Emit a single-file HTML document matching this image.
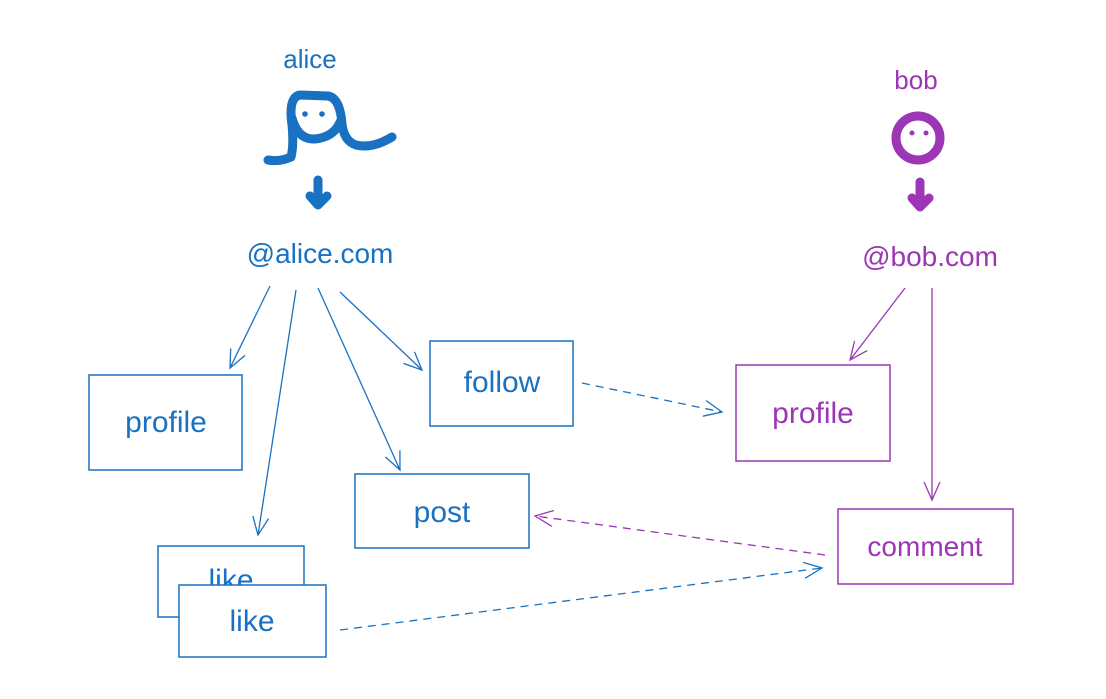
<!DOCTYPE html>
<html><head><style>
html,body{margin:0;padding:0;background:#fff;width:1106px;height:699px;overflow:hidden}
text{font-family:"Liberation Sans",sans-serif}
</style></head><body>
<svg width="1106" height="699" viewBox="0 0 1106 699" xmlns="http://www.w3.org/2000/svg">
<defs>
<marker id="ab" viewBox="0 0 20 20" refX="18" refY="10" markerWidth="20" markerHeight="20" orient="auto" markerUnits="userSpaceOnUse"><path d="M0,2 L18,10 L0,18" fill="none" stroke="#1971c2" stroke-width="1.3"/></marker>
<marker id="ap" viewBox="0 0 20 20" refX="18" refY="10" markerWidth="20" markerHeight="20" orient="auto" markerUnits="userSpaceOnUse"><path d="M0,2 L18,10 L0,18" fill="none" stroke="#9c36b5" stroke-width="1.3"/></marker>
</defs>
<!-- alice -->
<text x="310" y="68" fill="#1971c2" font-size="26" text-anchor="middle">alice</text>
<g fill="none" stroke="#1971c2" stroke-width="9" stroke-linecap="round" stroke-linejoin="round">
<path d="M268,160 Q280,162 291,157 Q294,145 292,125 Q288,97 300,95 L328,96 Q340,98 342,124 Q344,141 356,145 Q372,149 392,137"/>
<path d="M292,118 Q298,140 315,139 Q334,137 340,122"/>
<path d="M318,180 L318,203 M310,196 L318,205 L327,196"/>
</g>
<circle cx="305" cy="114" r="2.8" fill="#1971c2"/><circle cx="322" cy="114" r="2.8" fill="#1971c2"/>
<text x="320" y="263" fill="#1971c2" font-size="28" text-anchor="middle">@alice.com</text>
<!-- bob -->
<text x="916" y="89" fill="#9c36b5" font-size="26" text-anchor="middle">bob</text>
<g fill="none" stroke="#9c36b5" stroke-width="9" stroke-linecap="round" stroke-linejoin="round">
<circle cx="918" cy="138" r="22"/>
<path d="M920,182 L920,205 M912,198 L920,207 L929,198"/>
</g>
<circle cx="912" cy="133" r="2.5" fill="#9c36b5"/><circle cx="926" cy="133" r="2.5" fill="#9c36b5"/>
<text x="930" y="266" fill="#9c36b5" font-size="28" text-anchor="middle">@bob.com</text>
<!-- boxes -->
<g fill="#fff" stroke="#1971c2" stroke-width="1.5">
<rect x="89" y="375" width="153" height="95"/>
<rect x="430" y="341" width="143" height="85"/>
<rect x="355" y="474" width="174" height="74"/>
<rect x="158" y="546" width="146" height="71"/>
</g>
<text x="231" y="590" fill="#1971c2" font-size="30" text-anchor="middle">like</text>
<rect x="179" y="585" width="147" height="72" fill="#fff" stroke="#1971c2" stroke-width="1.5"/>
<g fill="#1971c2" font-size="30" text-anchor="middle">
<text x="166" y="432">profile</text>
<text x="502" y="392">follow</text>
<text x="442" y="522">post</text>
<text x="252" y="631">like</text>
</g>
<g fill="#fff" stroke="#9c36b5" stroke-width="1.5">
<rect x="736" y="365" width="154" height="96"/>
<rect x="838" y="509" width="175" height="75"/>
</g>
<text x="813" y="423" fill="#9c36b5" font-size="30" text-anchor="middle">profile</text>
<text x="925" y="556" fill="#9c36b5" font-size="28" text-anchor="middle">comment</text>
<!-- arrows -->
<g fill="none" stroke="#1971c2" stroke-width="1.3">
<path d="M270,286 L230,368" marker-end="url(#ab)"/>
<path d="M296,290 L258,535" marker-end="url(#ab)"/>
<path d="M318,288 L400,470" marker-end="url(#ab)"/>
<path d="M340,292 L422,370" marker-end="url(#ab)"/>
<path d="M582,383 L722,412" stroke-dasharray="8 6" marker-end="url(#ab)"/>
<path d="M340,630 L822,568" stroke-dasharray="8 6" marker-end="url(#ab)"/>
</g>
<g fill="none" stroke="#9c36b5" stroke-width="1.3">
<path d="M905,288 L850,360" marker-end="url(#ap)"/>
<path d="M932,288 L932,500" marker-end="url(#ap)"/>
<path d="M825,555 L535,516" stroke-dasharray="8 6" marker-end="url(#ap)"/>
</g>
</svg>
</body></html>
